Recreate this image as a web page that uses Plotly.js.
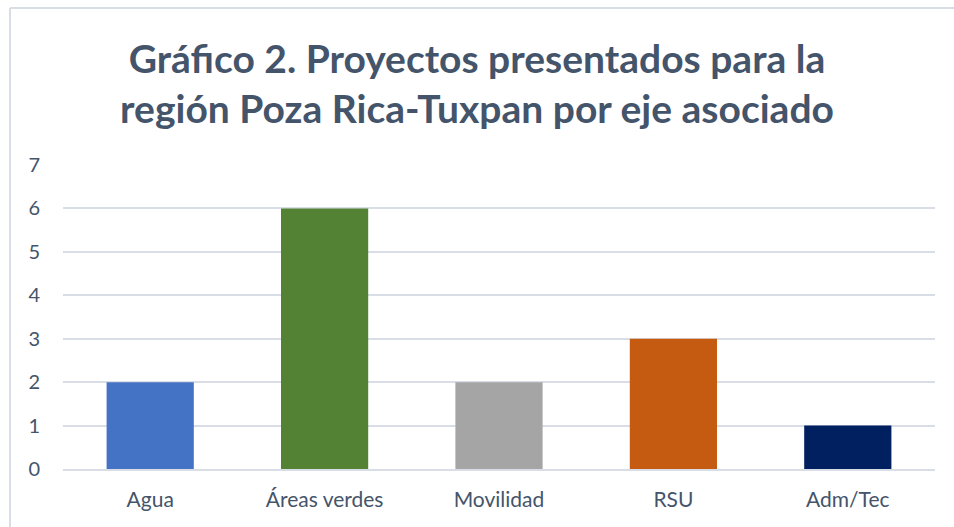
<!DOCTYPE html>
<html><head><meta charset="utf-8">
<script src="https://cdn.plot.ly/plotly-3.0.1.min.js"></script>
<style>html,body{margin:0;padding:0;background:#fff}#c{width:954px;height:527px}</style>
</head><body><div id="c"></div>
<script>
const categories = ["Agua", "Áreas verdes", "Movilidad", "RSU", "Adm/Tec"];
const values = [2, 6, 2, 3, 1];
const colors = ["#4472C4", "#548235", "#A5A5A5", "#C55A11", "#002060"];
const yTicks = [0, 1, 2, 3, 4, 5, 6, 7];
const titleText = "Gráfico 2. Proyectos presentados para la<br>región Poza Rica-Tuxpan por eje asociado";

const L = 63, R = 19, T = 165, B = 58, W = 954, H = 527;
const pw = W - L - R, ph = H - T - B;
const px = x => (x - L) / pw;
const py = y => (H - B - y) / ph;

Plotly.newPlot('c', [{
  type: 'bar', x: categories, y: values,
  marker: {color: colors}, hoverinfo: 'none'
}], {
  width: W, height: H,
  margin: {l: L, r: R, t: T, b: B},
  paper_bgcolor: '#fff', plot_bgcolor: '#fff',
  bargap: 0.5,
  font: {family: 'Lato, "Open Sans", sans-serif', color: '#44546A'},
  title: {text: titleText, font: {size: 39, family: 'Lato, sans-serif', weight: 'bold', color: '#44546A'},
          x: 0.5, xanchor: 'center', y: 0.862, yanchor: 'middle'},
  xaxis: {showgrid: false, showline: true, linecolor: '#D9DEE6', linewidth: 2,
          tickfont: {size: 21, color: '#44546A'}, ticks: '', ticklabelstandoff: 11, fixedrange: true},
  yaxis: {range: [0, 7], tickvals: yTicks, showgrid: true, gridcolor: '#D9DEE6', gridwidth: 2,
          zeroline: false, showline: false, tickfont: {size: 20, color: '#44546A'},
          ticks: '', ticklabelstandoff: 22, fixedrange: true},
  shapes: [
    {type: 'line', xref: 'paper', yref: 'paper', x0: px(10), x1: px(954), y0: py(8), y1: py(8),
     line: {color: '#D9DEE6', width: 2}},
    {type: 'line', xref: 'paper', yref: 'paper', x0: px(10), x1: px(10), y0: py(8), y1: py(527),
     line: {color: '#D9DEE6', width: 2}}
  ]
}, {displayModeBar: false, staticPlot: true});
</script></body></html>
